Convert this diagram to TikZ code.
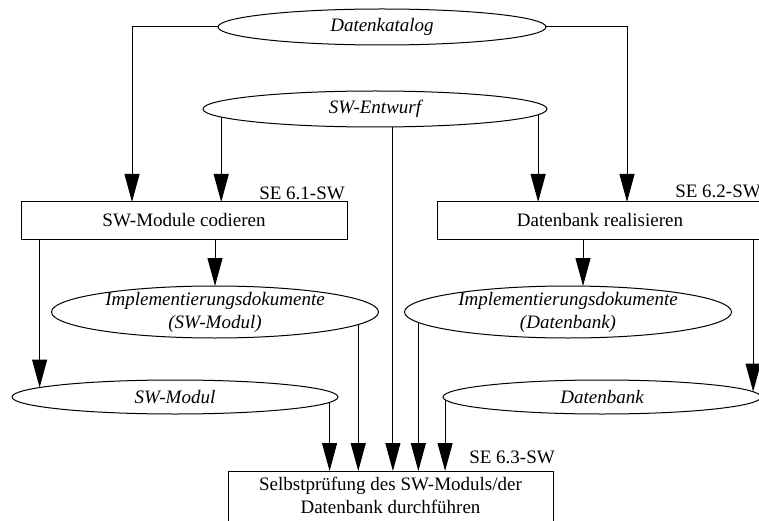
\documentclass[tikz,border=0pt]{standalone}
\usepackage{fontspec}
\setmainfont{Liberation Serif}
\usetikzlibrary{arrows.meta,shapes.geometric}

\begin{document}
\begin{tikzpicture}[x=1pt, y=-1pt,
	doc/.style={ellipse, draw, line width=1pt, inner sep=0pt, outer sep=0pt, align=center, font=\fontsize{19}{23}\selectfont\itshape},
	task/.style={rectangle, draw, line width=1pt, inner sep=0pt, outer sep=0pt, align=center, minimum width=\taskW, minimum height=37pt, font=\fontsize{19}{23}\selectfont},
	tag/.style={anchor=base east, inner sep=0pt, font=\fontsize{19}{23}\selectfont},
	arr/.style={line width=1pt, -{Triangle[length=28pt,width=15pt]}}]
	\def\taskW{326pt} % Width of the task boxes
	\def\docH{34pt} % Height of the one-line ellipses
	
	% Frame of the picture
	\useasboundingbox (0,0) rectangle (759,521);
	\clip (0,0) rectangle (759,521);
	
	% Input documents
	\node[doc, minimum width=328pt, minimum height=36pt] (katalog) at (382,27) {Datenkatalog};
	\node[doc, minimum width=344pt, minimum height=36pt] (entwurf) at (375,109) {SW-Entwurf};
	
	% Tasks
	\node[task] (codieren) at (184,220.5) {SW-Module codieren};
	\node[task] (realisieren) at (600,220.5) {Datenbank realisieren};
	\node[tag, xshift=-2pt, yshift=2pt] (tagA) at (codieren.north east) {SE 6.1-SW};
	\node[tag, xshift=-2pt, yshift=5pt] (tagB) at (realisieren.north east) {SE 6.2-SW};
	
	% Results of the tasks
	\node[doc, minimum width=327pt, minimum height=52pt, inner ysep=-2pt] (implsw) at (215,312) {Implementierungsdokumente\\(SW-Modul)};
	\node[doc, minimum width=327pt, minimum height=52pt, inner ysep=-2pt] (impldb) at (568,312) {Implementierungsdokumente\\(Datenbank)};
	\node[doc, minimum width=326pt, minimum height=\docH] (modul) at (175,397) {SW-Modul};
	\node[doc, minimum width=318pt, minimum height=\docH] (datenbank) at (602,397) {Datenbank};
	
	% Check
	\node[task, anchor=north, minimum width=325pt, inner ysep=6pt, text depth=14pt] (pruefen) at (390.5,471) {Selbstprüfung des SW-Moduls/der\\Datenbank durchführen};
	\node[tag, xshift=2pt, yshift=8pt] (tagC) at (pruefen.north east) {SE 6.3-SW};
	
	% Datenkatalog and SW-Entwurf into the tasks
	\draw[arr] (katalog.west) -| ([xshift=-52pt]codieren.north);
	\draw[arr] (katalog.east) -| ([xshift=27pt]realisieren.north);
	\draw[arr] (entwurf.183.7) -- (entwurf.183.7 |- codieren.north);
	\draw[arr] (entwurf.358) -- (entwurf.358 |- realisieren.north);
	\draw[arr] (entwurf.315) -- (entwurf.315 |- pruefen.north);
	
	% Tasks to their results
	\coordinate (dbin) at ([xshift=15pt]impldb.north);
	\draw[arr] (codieren.south -| modul.176.3) -- (modul.176.3);
	\draw[arr] (codieren.south -| implsw.north) -- (implsw.north);
	\draw[arr] (realisieren.south -| dbin) -- (dbin);
	\draw[arr] (realisieren.south -| datenbank.2.3) -- (datenbank.2.3);
	
	% Results into the check
	\foreach \src/\ang in {modul/358.6, implsw/355.75, impldb/184.6, datenbank/181.4} {
		\draw[arr] (\src.\ang) -- (\src.\ang |- pruefen.north);
	}
\end{tikzpicture}
\end{document}
